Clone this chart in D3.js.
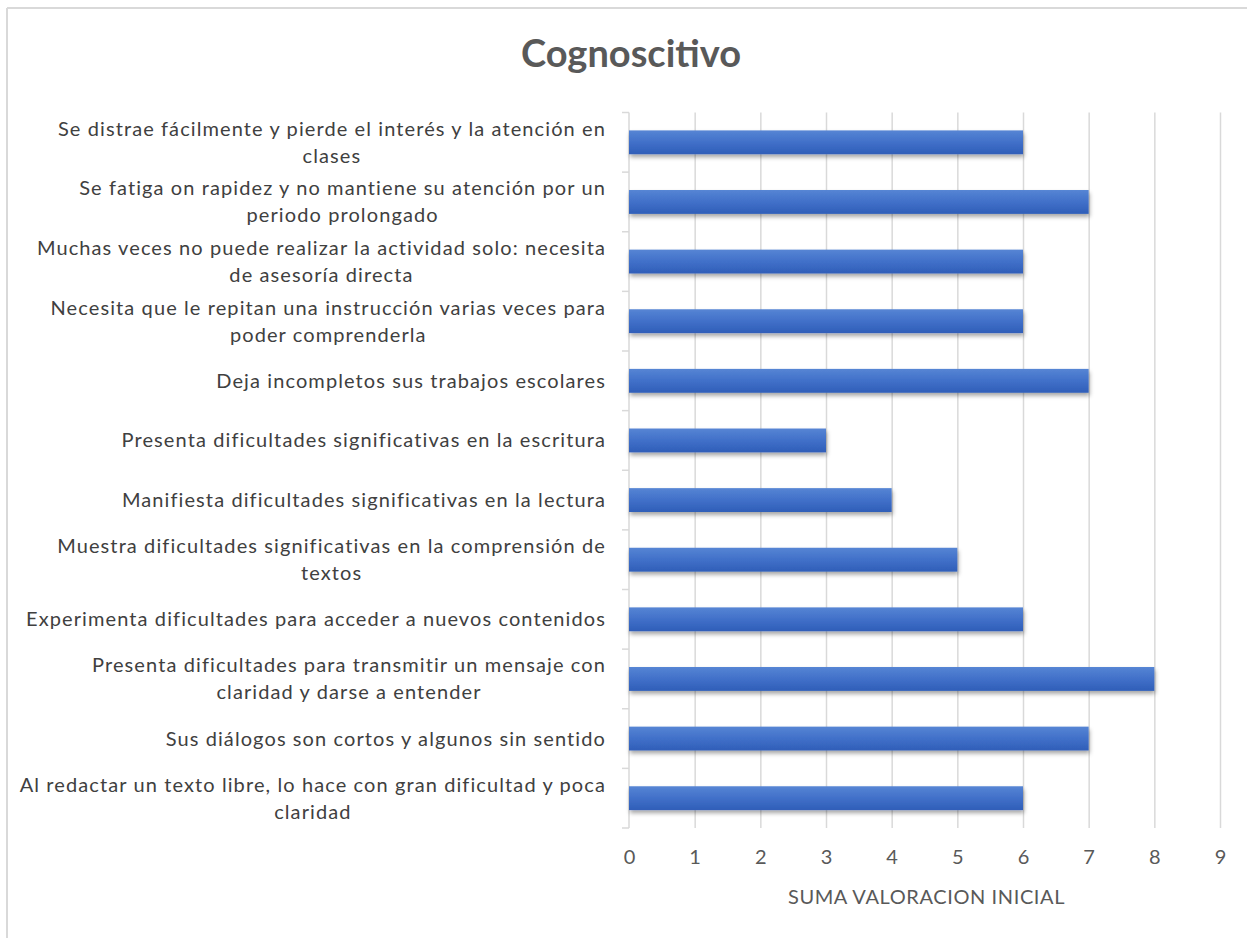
<!DOCTYPE html>
<html><head><meta charset="utf-8">
<script src="https://cdn.jsdelivr.net/npm/d3@7"></script>
<style>
html,body{margin:0;padding:0;background:#fff;}
svg{display:block;}
</style></head>
<body>
<script>
const chartTitle = "Cognoscitivo";
const axisTitle = "SUMA VALORACION INICIAL";
const categories = [
  "Se distrae fácilmente y pierde el interés y la atención en\nclases",
  "Se fatiga on rapidez y no mantiene su atención por un\nperiodo prolongado",
  "Muchas veces no puede realizar la actividad solo: necesita\nde asesoría directa",
  "Necesita que le repitan una instrucción varias veces para\npoder comprenderla",
  "Deja incompletos sus trabajos escolares",
  "Presenta dificultades significativas en la escritura",
  "Manifiesta dificultades significativas en la lectura",
  "Muestra dificultades significativas en la comprensión de\ntextos",
  "Experimenta dificultades para acceder a nuevos contenidos",
  "Presenta dificultades para transmitir un mensaje con\nclaridad y darse a entender",
  "Sus diálogos son cortos y algunos sin sentido",
  "Al redactar un texto libre, lo hace con gran dificultad y poca\nclaridad"
];
const values = [6, 7, 6, 6, 7, 3, 4, 5, 6, 8, 7, 6];
const xTicks = [0, 1, 2, 3, 4, 5, 6, 7, 8, 9];

const W = 1247, H = 938;
const plot = {left: 629, right: 1220, top: 112.5, bottom: 828};
const labelRight = 606;
const font = "Lato, 'Open Sans', sans-serif";

const svg = d3.select("body").append("svg").attr("width", W).attr("height", H);

const defs = svg.append("defs");
const grad = defs.append("linearGradient").attr("id", "barGrad")
  .attr("x1", 0).attr("y1", 0).attr("x2", 0).attr("y2", 1);
grad.append("stop").attr("offset", "0%").attr("stop-color", "#5685d4");
grad.append("stop").attr("offset", "50%").attr("stop-color", "#4170c9");
grad.append("stop").attr("offset", "100%").attr("stop-color", "#2f5eb8");
const flt = defs.append("filter").attr("id", "shadow")
  .attr("x", "-5%").attr("y", "-30%").attr("width", "110%").attr("height", "180%");
flt.append("feDropShadow").attr("dx", 1).attr("dy", 3).attr("stdDeviation", 2)
  .attr("flood-color", "#000").attr("flood-opacity", 0.35);

// chart border (top and left visible)
svg.append("line").attr("x1", 7).attr("x2", W).attr("y1", 8).attr("y2", 8)
  .attr("stroke", "#d9d9d9").attr("stroke-width", 2);
svg.append("line").attr("x1", 7).attr("x2", 7).attr("y1", 8).attr("y2", H)
  .attr("stroke", "#d9d9d9").attr("stroke-width", 2);

const x = d3.scaleLinear().domain([0, 9]).range([plot.left, plot.right]);
const y = d3.scaleBand().domain(categories).range([plot.top, plot.bottom])
  .paddingInner(0.6).paddingOuter(0.3);

// gridlines
const grid = svg.append("g").attr("transform", `translate(0,${plot.bottom})`)
  .call(d3.axisBottom(x).tickValues(xTicks).tickSize(-(plot.bottom - plot.top)).tickFormat(""));
grid.select(".domain").remove();
grid.selectAll(".tick line").attr("stroke", "#d9d9d9").attr("stroke-width", 1.5);
grid.selectAll(".tick").filter(d => d === 0).remove();

// left axis line and category boundary ticks
const boundaries = d3.range(categories.length + 1).map(i => plot.top + i * (plot.bottom - plot.top) / categories.length);
const yAxisG = svg.append("g");
yAxisG.append("line").attr("x1", plot.left).attr("x2", plot.left)
  .attr("y1", plot.top).attr("y2", plot.bottom).attr("stroke", "#d9d9d9").attr("stroke-width", 1.5);
yAxisG.selectAll("line.tk").data(boundaries).join("line").attr("class", "tk")
  .attr("x1", plot.left - 7).attr("x2", plot.left).attr("y1", d => d).attr("y2", d => d)
  .attr("stroke", "#d9d9d9").attr("stroke-width", 1.5);

// bars
svg.append("g").selectAll("rect").data(categories).join("rect")
  .attr("x", x(0))
  .attr("y", d => y(d))
  .attr("width", (d, i) => x(values[i]) - x(0))
  .attr("height", y.bandwidth())
  .attr("fill", "url(#barGrad)")
  .attr("filter", "url(#shadow)");

// category labels
const lg = svg.append("g").attr("font-family", font).attr("font-size", 20)
  .attr("fill", "#404040").attr("letter-spacing", 1.1);
categories.forEach(c => {
  const lines = c.split("\n");
  const cy = y(c) + y.bandwidth() / 2;
  const lh = 27;
  const t = lg.append("text");
  lines.forEach((ln, j) => {
    t.append("tspan").text(ln)
      .attr("y", cy + (j - (lines.length - 1) / 2) * lh)
      .attr("dy", "0.35em");
  });
  let maxW = 0;
  t.selectAll("tspan").each(function(){ maxW = Math.max(maxW, this.getComputedTextLength()); });
  t.selectAll("tspan").attr("x", labelRight - maxW / 2).attr("text-anchor", "middle");
});

// x tick labels
const xa = svg.append("g").attr("transform", `translate(0,${plot.bottom})`)
  .call(d3.axisBottom(x).tickValues(xTicks).tickSize(0).tickPadding(22).tickFormat(d3.format("d")));
xa.select(".domain").remove();
xa.selectAll("text").attr("font-family", font).attr("font-size", 20).attr("fill", "#595959");

// axis title
svg.append("text").attr("x", (plot.left + plot.right) / 2 + 2).attr("y", 904)
  .attr("text-anchor", "middle").attr("font-family", font).attr("font-size", 20)
  .attr("letter-spacing", 0.6).attr("fill", "#595959").text(axisTitle);

// title
svg.append("text").attr("x", 631).attr("y", 67).attr("text-anchor", "middle")
  .attr("font-family", font).attr("font-weight", "bold").attr("font-size", 38)
  .attr("fill", "#595959").text(chartTitle);
</script>
</body></html>
